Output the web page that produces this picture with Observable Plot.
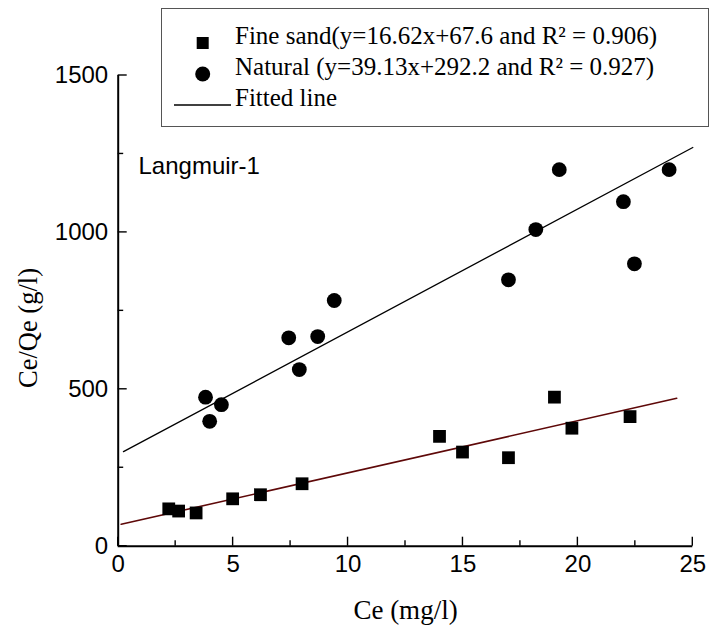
<!DOCTYPE html>
<html>
<head>
<meta charset="utf-8">
<script src="https://cdn.jsdelivr.net/npm/d3@7"></script>
<script src="https://cdn.jsdelivr.net/npm/@observablehq/plot@0.6"></script>
<style>
  html, body { margin: 0; padding: 0; background: #fff; }
  #wrap { position: relative; width: 712px; height: 630px; }
  #legend {
    position: absolute; left: 161px; top: 8px; width: 548px; height: 119px;
    border: 1.5px solid #555; box-sizing: border-box; background: #fff;
    font-family: "Liberation Serif", "Times New Roman", serif; font-size: 25px; color: #000;
  }
  #legend svg { position: absolute; left: 0; top: 0; }
  .lt { position: absolute; left: 73px; white-space: nowrap; line-height: 1; }
</style>
</head>
<body>
<div id="wrap"></div>
<script>
// ---- data ----
const fineX = [2.2, 2.63, 3.39, 4.98, 6.19, 8.0, 13.98, 14.98, 16.98, 18.98, 19.74, 22.27];
const fineY = [119, 112, 106, 151, 164, 199, 350, 300, 282, 475, 376, 413];
const naturalX = [3.8, 3.98, 4.49, 7.42, 7.88, 8.68, 9.4, 16.98, 18.17, 19.19, 21.98, 22.46, 23.97];
const naturalY = [475, 398, 451, 664, 563, 668, 783, 849, 1009, 1200, 1098, 900, 1200];
const seriesNames = ["Fine sand", "Natural"];
const fitSlope = [16.62, 39.13];
const fitIntercept = [67.6, 292.2];
const fitXRange = [[0.13, 24.3], [0.23, 25]];
const legendLabels = [
  "Fine sand(y=16.62x+67.6 and R\u00B2 = 0.906)",
  "Natural (y=39.13x+292.2 and R\u00B2 = 0.927)",
  "Fitted line"
];
const xMajorTicks = [0, 5, 10, 15, 20, 25];
const xMinorTicks = [2.5, 7.5, 12.5, 17.5, 22.5];
const yMajorTicks = [0, 500, 1000, 1500];
const yMinorTicks = [250, 750, 1250];
const xTitle = "Ce (mg/l)";
const yTitle = "Ce/Qe (g/l)";
const panelLabel = "Langmuir-1";

// ---- derived tables ----
const fine = fineX.map((x, i) => ({x, y: fineY[i]}));
const natural = naturalX.map((x, i) => ({x, y: naturalY[i]}));
const fitLines = seriesNames.map((s, k) =>
  fitXRange[k].map(x => ({series: s, x, y: fitSlope[k] * x + fitIntercept[k]})));

const sans = "'Liberation Sans', Arial, sans-serif";
const serif = "'Liberation Serif', 'Times New Roman', serif";

const chart = Plot.plot({
  width: 712,
  height: 630,
  marginLeft: 117.7,
  marginRight: 19.7,
  marginTop: 75,
  marginBottom: 84.3,
  style: {fontFamily: sans, background: "#fff", overflow: "visible"},
  x: {domain: [0, 25]},
  y: {domain: [0, 1500]},
  marks: [
    // tick labels
    Plot.axisX(xMajorTicks, {tickSize: 0, tickPadding: 9, fontSize: 24, fill: "#000", label: null, tickFormat: d => String(d)}),
    Plot.axisY(yMajorTicks, {tickSize: 0, tickPadding: 10, fontSize: 24, fill: "#000", label: null, tickFormat: d => String(d)}),
    // axis lines
    Plot.ruleY([0], {x1: 0, x2: 25, stroke: "#000", strokeWidth: 2}),
    Plot.ruleX([0], {y1: 0, y2: 1500, stroke: "#000", strokeWidth: 2}),
    // fitted lines
    Plot.line(fitLines[0], {x: "x", y: "y", stroke: "#5e0808", strokeWidth: 1.6}),
    Plot.line(fitLines[1], {x: "x", y: "y", stroke: "#000", strokeWidth: 1.3}),
    // data points
    Plot.dot(fine, {x: "x", y: "y", symbol: "square", r: 7.2, fill: "#000"}),
    Plot.dot(natural, {x: "x", y: "y", symbol: "circle", r: 7.4, fill: "#000"}),
    // titles
    Plot.text([xTitle], {frameAnchor: "bottom", lineAnchor: "bottom", dy: 72.3, fontFamily: serif, fontSize: 27, fill: "#000"}),
    Plot.text([panelLabel], {frameAnchor: "top-left", textAnchor: "start", lineAnchor: "bottom", dx: 20.3, dy: 98, fontFamily: sans, fontSize: 24, fill: "#000"})
  ]
});

const svg = d3.select(chart);
const xs = chart.scale("x"), ys = chart.scale("y");

// short inward ticks, positioned through the chart's own scales
const g = svg.append("g").attr("stroke", "#000").attr("stroke-width", 1.4);
const y0 = ys.apply(0), x0 = xs.apply(0);
xMajorTicks.forEach(v => g.append("line").attr("x1", xs.apply(v)).attr("x2", xs.apply(v)).attr("y1", y0).attr("y2", y0 - 9));
xMinorTicks.forEach(v => g.append("line").attr("x1", xs.apply(v)).attr("x2", xs.apply(v)).attr("y1", y0).attr("y2", y0 - 5.5));
yMajorTicks.forEach(v => g.append("line").attr("y1", ys.apply(v)).attr("y2", ys.apply(v)).attr("x1", x0).attr("x2", x0 + 9));
yMinorTicks.forEach(v => g.append("line").attr("y1", ys.apply(v)).attr("y2", ys.apply(v)).attr("x1", x0).attr("x2", x0 + 5.5));

// rotated y-axis title
svg.append("text")
  .attr("transform", "translate(37,328) rotate(-90)")
  .attr("text-anchor", "middle")
  .attr("font-family", serif)
  .attr("font-size", 26.5)
  .attr("fill", "#000")
  .text(yTitle);

const wrap = document.getElementById("wrap");
wrap.appendChild(chart);

// ---- legend ----
const legend = document.createElement("div");
legend.id = "legend";
const ns = "http://www.w3.org/2000/svg";
const lsvg = document.createElementNS(ns, "svg");
lsvg.setAttribute("width", 548); lsvg.setAttribute("height", 119);
const rowY = [34, 65, 96];
const sq = document.createElementNS(ns, "rect");
sq.setAttribute("x", 40.7 - 6); sq.setAttribute("y", rowY[0] - 6); sq.setAttribute("width", 12); sq.setAttribute("height", 12); sq.setAttribute("fill", "#000");
lsvg.appendChild(sq);
const ci = document.createElementNS(ns, "circle");
ci.setAttribute("cx", 40.7); ci.setAttribute("cy", rowY[1]); ci.setAttribute("r", 7.5); ci.setAttribute("fill", "#000");
lsvg.appendChild(ci);
const ln = document.createElementNS(ns, "line");
ln.setAttribute("x1", 12); ln.setAttribute("x2", 69); ln.setAttribute("y1", rowY[2]); ln.setAttribute("y2", rowY[2]); ln.setAttribute("stroke", "#000"); ln.setAttribute("stroke-width", 1.3);
lsvg.appendChild(ln);
legend.appendChild(lsvg);
legendLabels.forEach((t, i) => {
  const d = document.createElement("div");
  d.className = "lt";
  d.style.top = (rowY[i] - 20) + "px";
  d.textContent = t;
  legend.appendChild(d);
});
wrap.appendChild(legend);
</script>
</body>
</html>
